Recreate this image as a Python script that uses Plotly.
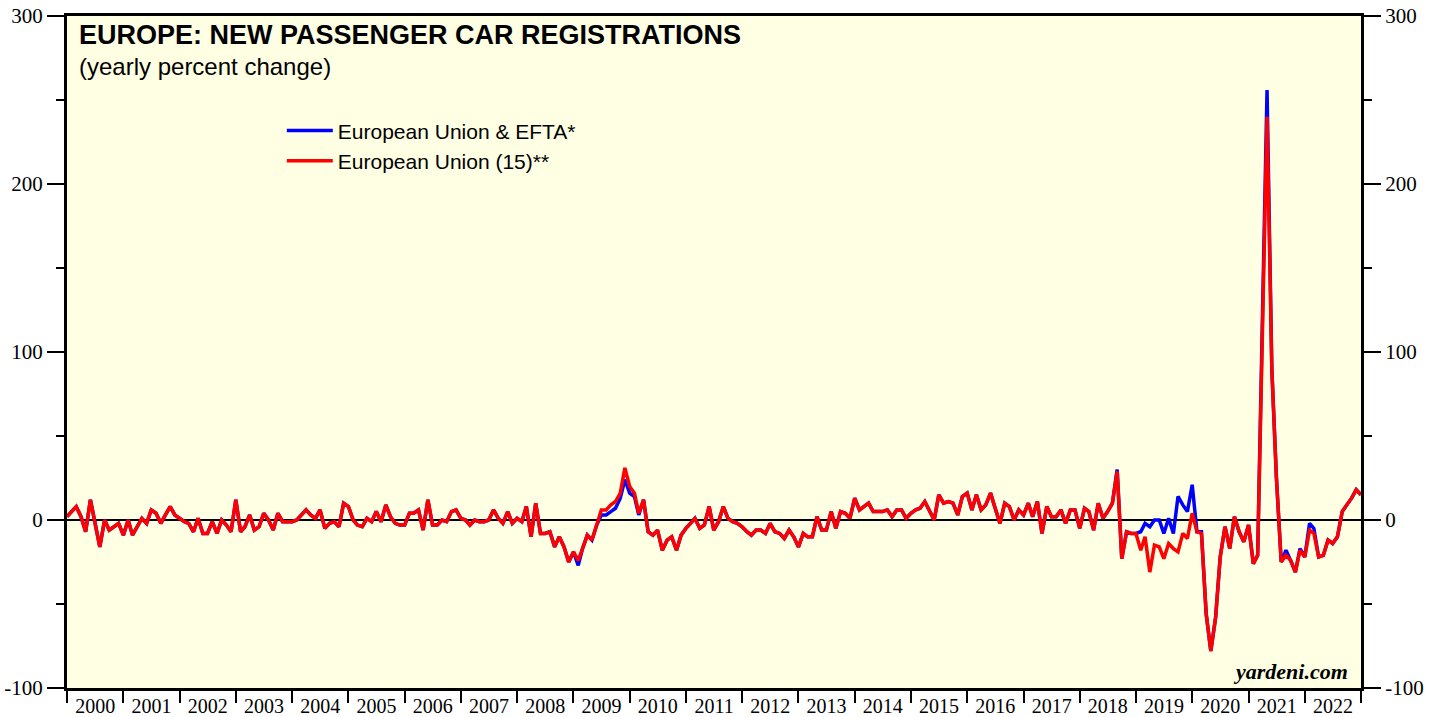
import pandas as pd
import plotly.graph_objects as go

# Monthly plot positions (Jan 2000 ... Jan 2023)
n_points = 277
dates = pd.date_range("2000-01-01", periods=n_points, freq="MS")

# European Union (15)** - yearly percent change
eu15 = [
    2, 5, 8, 2, -7, 12, -3, -16, 0, -6, -4, -2,
    -9, 0, -9, -4, 1, -2, 6, 4, -2, 3, 8, 3,
    1, -1, -2, -7, 1, -8, -8, -1, -8, 0, -3, -7,
    12, -7, -4, 3, -6, -4, 4, 0, -6, 4, -1, -1,
    -1, 0, 3, 6, 3, 1, 6, -5, -2, -1, -4, 10,
    8, 0, -3, -4, 1, -1, 5, -1, 9, 2, -2, -3,
    -3, 4, 4, 6, -6, 12, -3, -3, 0, -1, 5, 6,
    1, 0, -3, 0, -1, -1, 0, 6, 1, -2, 5, -2,
    1, -1, 8, -10, 10, -8, -8, -7, -16, -10, -16, -25,
    -19, -24, -17, -9, -12, -3, 6, 6, 9, 11, 16, 31,
    20, 16, 4, 12, -7, -9, -6, -18, -12, -10, -18, -9,
    -5, -2, 1, -5, -3, 8, -6, -1, 8, 1, -1, -2,
    -4, -7, -9, -6, -6, -8, -2, -7, -8, -11, -6, -10,
    -16, -8, -10, -10, 2, -6, -6, 5, -5, 5, 4, 1,
    13, 6, 8, 10, 5, 5, 5, 6, 2, 6, 6, 1,
    4, 6, 7, 11, 5, 0, 15, 10, 11, 10, 3, 14,
    16, 6, 15, 6, 9, 16, 7, -2, 10, 8, 0, 6,
    3, 10, 2, 11, -8, 8, 2, 2, 6, -2, 6, 6,
    -5, 7, 5, -6, 10, 1, 5, 10, 29, -23, -7, -8,
    -8, -18, -10, -31, -15, -16, -23, -14, -17, -19, -8, -11,
    4, -7, -8, -56, -78, -58, -22, -4, -17, 2, -7, -13,
    -3, -26, -21, 115, 240, 90, 25, -25, -21, -24, -31, -18,
    -22, -6, -8, -22, -21, -12, -14, -10, 5, 9, 13, 18,
    15,
]

# European Union & EFTA* - yearly percent change
eu_efta = [
    2, 5, 8, 2, -7, 12, -3, -16, 0, -6, -4, -2,
    -9, 0, -9, -4, 1, -2, 6, 4, -2, 3, 8, 3,
    1, -1, -2, -7, 1, -8, -8, -1, -8, 0, -3, -7,
    12, -7, -4, 3, -6, -4, 4, 0, -6, 4, -1, -1,
    -1, 0, 3, 6, 3, 1, 6, -5, -2, -1, -4, 10,
    8, 0, -3, -4, 1, -1, 5, -1, 9, 2, -2, -3,
    -3, 4, 4, 6, -6, 12, -3, -3, 0, -1, 5, 6,
    1, 0, -3, 0, -1, -1, 0, 6, 1, -2, 5, -2,
    1, -1, 8, -10, 10, -8, -8, -7, -16, -10, -16, -25,
    -19, -27, -17, -9, -12, -3, 3, 3, 5, 7, 13, 24,
    16, 14, 3, 12, -7, -9, -6, -18, -12, -10, -18, -9,
    -5, -2, 1, -5, -3, 8, -6, -1, 8, 1, -1, -2,
    -4, -7, -9, -6, -6, -8, -2, -7, -8, -11, -6, -10,
    -16, -8, -10, -10, 2, -6, -6, 5, -5, 5, 4, 1,
    13, 6, 8, 10, 5, 5, 5, 6, 2, 6, 6, 1,
    4, 6, 7, 11, 5, 0, 15, 10, 11, 10, 3, 14,
    16, 6, 15, 6, 9, 16, 7, -2, 10, 8, 0, 6,
    3, 10, 2, 11, -8, 8, 2, 2, 6, -2, 6, 6,
    -5, 7, 5, -6, 10, 1, 5, 10, 30, -23, -7, -8,
    -8, -7, -2, -4, 0, 0, -8, 1, -8, 14, 9, 5,
    21, -7, -7, -56, -78, -58, -22, -4, -17, 2, -7, -13,
    -3, -26, -21, 115, 256, 90, 25, -25, -18, -24, -31, -17,
    -22, -2, -5, -22, -21, -12, -14, -10, 5, 9, 13, 18,
    15,
]

series_names = ["European Union & EFTA*", "European Union (15)**"]
series_colors = ["#0000FF", "#FF0000"]
y_ticks = [-100, 0, 100, 200, 300]

SERIF = "Liberation Serif, Times New Roman, serif"
SANS = "Liberation Sans, Arial, sans-serif"

fig = go.Figure()
fig.add_trace(go.Scatter(x=dates, y=eu_efta, mode="lines", name=series_names[0],
                         line=dict(color=series_colors[0], width=3.5), yaxis="y"))
fig.add_trace(go.Scatter(x=dates, y=eu15, mode="lines", name=series_names[1],
                         line=dict(color=series_colors[1], width=3.5), yaxis="y2"))

yaxis_common = dict(
    range=[-100, 300], tickvals=y_ticks, ticktext=[str(v) for v in y_ticks],
    ticks="outside", ticklen=17, tickwidth=1.5, tickcolor="black",
    minor=dict(dtick=50, ticks="outside", ticklen=8, tickwidth=1.5, tickcolor="black", showgrid=False),
    showgrid=False, showline=True, linewidth=3, linecolor="black",
    tickfont=dict(family=SERIF, size=21, color="black"), fixedrange=True,
    automargin=False, ticklabeloverflow="allow",
)

fig.update_layout(
    width=1439, height=717,
    margin=dict(l=67, r=78, t=16, b=29, pad=0),
    paper_bgcolor="white", plot_bgcolor="#FFFFE4",
    xaxis=dict(
        type="date", range=["2000-01-01", "2023-01-01"],
        dtick="M12", tick0="2000-01-01", tickformat="%Y", ticklabelmode="period",
        ticks="outside", ticklen=12, tickwidth=2, tickcolor="black",
        showgrid=False, showline=True, linewidth=3, linecolor="black", mirror=True,
        tickfont=dict(family=SERIF, size=20, color="black"), zeroline=False,
        automargin=False, ticklabelstandoff=-14, ticklabeloverflow="allow",
    ),
    yaxis=dict(**yaxis_common, side="left", zeroline=True, zerolinecolor="black", zerolinewidth=1.5),
    yaxis2=dict(**yaxis_common, side="right", overlaying="y", zeroline=False),
    showlegend=True,
    legend=dict(x=0.166, y=0.8595, xanchor="left", yanchor="top",
                bgcolor="rgba(0,0,0,0)", font=dict(family=SANS, size=21, color="black"),
                tracegroupgap=0, itemwidth=46),
    annotations=[
        dict(text="<b>EUROPE: NEW PASSENGER CAR REGISTRATIONS</b>", xref="paper", yref="paper",
             x=0.0077, y=0.9715, xanchor="left", yanchor="middle", showarrow=False,
             font=dict(family=SANS, size=27, color="black")),
        dict(text="(yearly percent change)", xref="paper", yref="paper",
             x=0.0077, y=0.925, xanchor="left", yanchor="middle", showarrow=False,
             font=dict(family=SANS, size=24, color="black")),
        dict(text="<b><i>yardeni.com</i></b>", xref="paper", yref="paper",
             x=0.9915, y=0.024, xanchor="right", yanchor="middle", showarrow=False,
             font=dict(family=SERIF, size=22, color="black")),
    ],
)

# remove the default page margin so the figure fills the window exactly; hide the mode bar
fig.write_html("out.html", config={"displayModeBar": False},
               post_script="document.body.style.margin='0';")
